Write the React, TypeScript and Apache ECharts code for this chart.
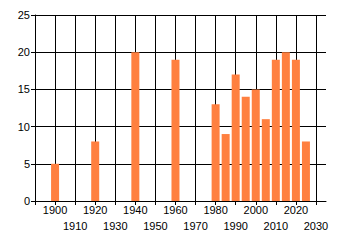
import React, { useEffect, useRef } from "react";
import * as echarts from "echarts";

const years = [1900, 1920, 1940, 1960, 1980, 1985, 1990, 1995, 2000, 2005, 2010, 2015, 2020, 2025];
const values = [5, 8, 20, 19, 13, 9, 17, 14, 15, 11, 19, 20, 19, 8];
const xTicks = [1890, 1900, 1910, 1920, 1930, 1940, 1950, 1960, 1970, 1980, 1990, 2000, 2010, 2020, 2030];
const xLabelsRow1 = [1900, 1920, 1940, 1960, 1980, 2000, 2020];
const xLabelsRow2 = [1910, 1930, 1950, 1970, 1990, 2010, 2030];

export default function App() {
  const ref = useRef<HTMLDivElement>(null);
  useEffect(() => {
    if (!ref.current) return;
    const chart = echarts.init(ref.current, null, { renderer: "svg" });
    const font = "Liberation Sans";
    const labelBase = {
      showMinLabel: true,
      showMaxLabel: true,
      hideOverlap: false,
      color: "#000",
      fontFamily: font,
      fontSize: 11,
      formatter: (v: number) => String(v),
    };
    chart.setOption({
      animation: false,
      grid: { left: 35, top: 15, right: 14, bottom: 44, containLabel: false },
      xAxis: [
        {
          type: "value",
          min: 1890,
          max: 2035,
          interval: 10,
          axisLine: { show: true, lineStyle: { color: "#000", width: 1 } },
          axisTick: { show: true, length: 4, customValues: xTicks, lineStyle: { color: "#000" } },
          splitLine: { show: true, lineStyle: { color: "#000", width: 1 } },
          axisLabel: { ...labelBase, customValues: xLabelsRow1, margin: 3 },
        },
        {
          type: "value",
          position: "bottom",
          offset: 0,
          min: 1890,
          max: 2035,
          interval: 10,
          axisLine: { show: false },
          axisTick: { show: false, customValues: xLabelsRow2 },
          splitLine: { show: false },
          axisLabel: { ...labelBase, customValues: xLabelsRow2, margin: 19 },
        },
      ],
      yAxis: {
        type: "value",
        min: 0,
        max: 25,
        interval: 5,
        axisLine: { show: true, lineStyle: { color: "#000", width: 1 } },
        axisTick: { show: true, length: 4, lineStyle: { color: "#000" } },
        splitLine: { show: true, lineStyle: { color: "#000", width: 1 } },
        axisLabel: { color: "#000", fontFamily: font, fontSize: 11, margin: 5 },
      },
      series: [
        {
          type: "bar",
          xAxisIndex: 0,
          barWidth: 8,
          itemStyle: { color: "rgb(255,128,64)" },
          data: years.map((y, i) => [y, values[i]]),
        },
      ],
    });
    return () => chart.dispose();
  }, []);
  return <div ref={ref} style={{ position: "absolute", left: 0, top: 0, width: 340, height: 245 }} />;
}
